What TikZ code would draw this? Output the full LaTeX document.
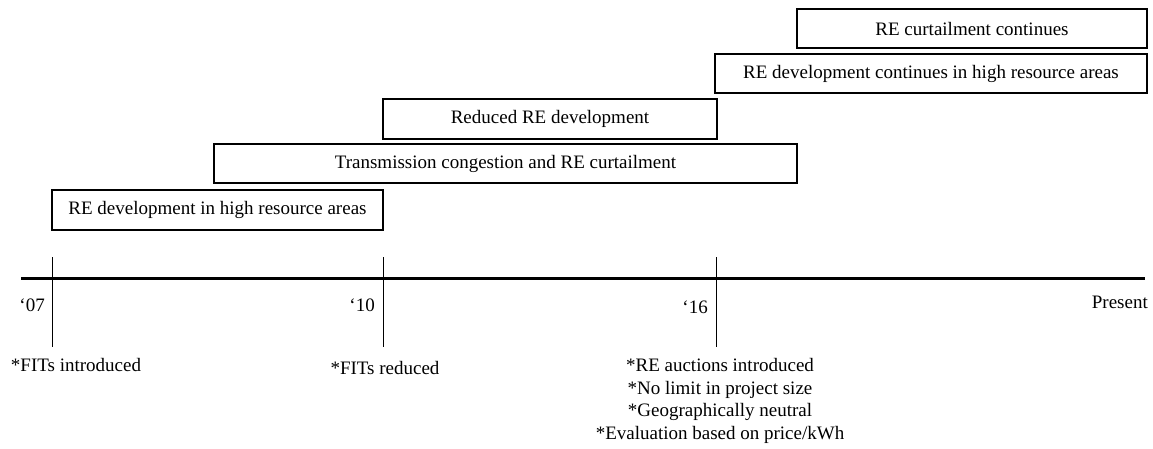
\documentclass[tikz,border=0pt]{standalone}
\usepackage{fontspec}
\setmainfont{Liberation Serif}
\begin{document}
\begin{tikzpicture}[x=1pt,y=-1pt,
  font=\fontsize{19}{22.7}\selectfont,
  phase/.style={draw, line width=2.2pt, inner sep=0pt, anchor=center},
  lbl/.style={inner sep=0pt},
  axisline/.style={line width=3pt},
  tickline/.style={line width=1pt}]
\useasboundingbox (0,0) rectangle (1153,448);
% phase boxes
\node[phase, minimum width=331pt, minimum height=40pt] (p1) at (217.5,210) {RE development in high resource areas};
\node[phase, minimum width=583pt, minimum height=39pt] (p2) at (505.5,163.5) {Transmission congestion and RE curtailment};
\node[phase, minimum width=334pt, minimum height=40pt] (p3) at (550,119) {Reduced RE development};
\node[phase, minimum width=432pt, minimum height=39pt] (p4) at (931,73.5) {RE development continues in high resource areas};
\node[phase, minimum width=350pt, minimum height=39pt] (p5) at (972,28.5) {RE curtailment continues};
% timeline
\coordinate (ls) at (21,278);
\coordinate (le) at (1145,278);
\draw[axisline] (ls) -- (le);
\coordinate (t07a) at (52,257);  \coordinate (t07b) at (52,347);
\coordinate (t10a) at (383,257); \coordinate (t10b) at (383,347);
\coordinate (t16a) at (716,257); \coordinate (t16b) at (716,347);
\draw[tickline] (t07a) -- (t07b);
\draw[tickline] (t10a) -- (t10b);
\draw[tickline] (t16a) -- (t16b);
% year labels
\node[lbl, anchor=east] (y07) at (45,305) {`07};
\node[lbl, anchor=east] (y10) at (375,305) {`10};
\node[lbl, anchor=east] (y16) at (708,307) {`16};
\node[lbl, anchor=east] (ypr) at (1148,302) {Present};
% notes
\node[lbl] (n07) at (76,365) {*FITs introduced};
\node[lbl] (n10) at (385,368) {*FITs reduced};
\node[lbl, align=center] (n16) at (720,401) {*RE auctions introduced\\*No limit in project size\\*Geographically neutral\\*Evaluation based on price/kWh};
\end{tikzpicture}
\end{document}
